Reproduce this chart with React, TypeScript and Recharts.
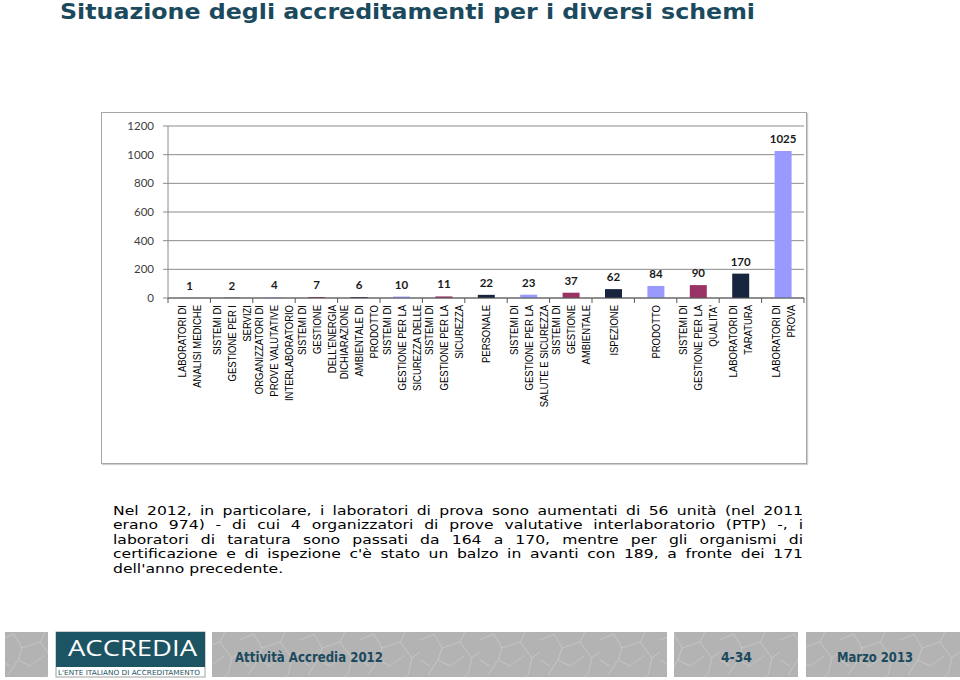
import React from 'react';
import { BarChart, Bar, XAxis, YAxis, CartesianGrid, Cell, LabelList } from 'recharts';

const title = 'Situazione degli accreditamenti per i diversi schemi';

const categories = [
  'LABORATORI DI\nANALISI MEDICHE',
  'SISTEMI DI\nGESTIONE PER I\nSERVIZI',
  'ORGANIZZATORI DI\nPROVE VALUTATIVE\nINTERLABORATORIO',
  "SISTEMI DI\nGESTIONE\nDELL'ENERGIA",
  'DICHIARAZIONE\nAMBIENTALE DI\nPRODOTTO',
  'SISTEMI DI\nGESTIONE PER LA\nSICUREZZA DELLE',
  'SISTEMI DI\nGESTIONE PER LA\nSICUREZZA',
  'PERSONALE',
  'SISTEMI DI\nGESTIONE PER LA\nSALUTE E SICUREZZA',
  'SISTEMI DI\nGESTIONE\nAMBIENTALE',
  'ISPEZIONE',
  'PRODOTTO',
  "SISTEMI DI\nGESTIONE PER LA\nQUALITA'",
  'LABORATORI DI\nTARATURA',
  'LABORATORI DI\nPROVA',
];

const values = [1, 2, 4, 7, 6, 10, 11, 22, 23, 37, 62, 84, 90, 170, 1025];

const yTicks = [0, 200, 400, 600, 800, 1000, 1200];

const paragraphLines = [
  'Nel 2012, in particolare, i laboratori di prova sono aumentati di 56 unità (nel 2011',
  'erano 974) - di cui 4 organizzatori di prove valutative interlaboratorio (PTP) -, i',
  'laboratori di taratura sono passati da 164 a 170, mentre per gli organismi di',
  "certificazione e di ispezione c'è stato un balzo in avanti con 189, a fronte dei 171",
  "dell'anno precedente.",
];

const footerLeft = 'Attività Accredia 2012';
const footerPage = '4-34';
const footerDate = 'Marzo 2013';

const palette = ['#993366', '#17253f', '#9999ff'];

const data = categories.map((name, i) => ({ name, value: values[i] }));

const CHART_W = 705;
const CHART_H = 351;
const MARGIN = { top: 14, right: 2, left: 0, bottom: 0 };
const Y_W = 67;
const X_H = 165;
const BAND = (CHART_W - MARGIN.left - MARGIN.right - Y_W) / categories.length;
const TEAL = '#1b4a5e';

const XTick = (props: any) => {
  const { x, y, payload, index } = props;
  const lines = String(payload.value).split('\n');
  const n = lines.length;
  const half = BAND / 2;
  return (
    <g transform={`translate(${x},${y})`}>
      <line x1={-half} x2={-half} y1={0} y2={5} stroke="#595959" strokeWidth={1} />
      {index === categories.length - 1 && (
        <line x1={half} x2={half} y1={0} y2={5} stroke="#595959" strokeWidth={1} />
      )}
      {lines.map((ln, k) => (
        <text
          key={k}
          transform={`translate(${(k - (n - 1) / 2) * 15},7) rotate(-90) scale(1,1.22)`}
          x={0}
          y={0}
          textAnchor="end"
          dominantBaseline="central"
          fontSize={9.5}
          fontFamily="'Liberation Sans', Arial, sans-serif"
          fill="#000"
        >
          {ln}
        </text>
      ))}
    </g>
  );
};

const Chart = () => (
  <BarChart width={CHART_W} height={CHART_H} data={data} margin={MARGIN}>
    <CartesianGrid vertical={false} stroke="#8c8c8c" strokeWidth={1} />
    <XAxis
      dataKey="name"
      interval={0}
      height={X_H}
      tickLine={false}
      tickSize={0}
      tickMargin={0}
      axisLine={{ stroke: '#595959', strokeWidth: 1 }}
      tick={<XTick />}
    />
    <YAxis
      width={Y_W}
      domain={[0, 1200]}
      ticks={yTicks}
      interval={0}
      tickSize={5}
      tickMargin={9}
      axisLine={{ stroke: '#8c8c8c' }}
      tickLine={{ stroke: '#8c8c8c' }}
      tick={{ fontSize: 11.5, fill: '#404040', fontFamily: 'Lato, sans-serif' }}
    />
    <Bar dataKey="value" barSize={17} isAnimationActive={false}>
      {data.map((_, i) => (
        <Cell key={i} fill={palette[i % 3]} />
      ))}
      <LabelList
        dataKey="value"
        position="top"
        offset={8}
        fill="#1a1a1a"
        fontSize={11.5}
        fontWeight="bold"
        fontFamily="Lato, sans-serif"
      />
    </Bar>
  </BarChart>
);

const FooterBox = ({ x, w }: { x: number; w: number }) => (
  <g>
    <rect x={x} y={632} width={w} height={45} fill="#b3b3b3" />
    <rect x={x} y={632} width={w} height={45} fill="url(#tex)" />
  </g>
);

export default function App() {
  return (
    <div
      style={{
        position: 'absolute',
        left: 0,
        top: 0,
        width: 960,
        height: 680,
        background: '#fff',
        overflow: 'hidden',
      }}
    >
      <svg width={960} height={680} style={{ position: 'absolute', left: 0, top: 0 }}>
        <defs>
          <pattern id="tex" width="60" height="45" patternUnits="userSpaceOnUse">
            <path
              d="M0 10 L14 4 L22 18 L40 12 L52 28 L60 22 M8 45 L18 30 L30 36 L44 26 M22 18 L18 30 M40 12 L46 0 M52 28 L48 45 M0 30 L10 36"
              stroke="#c9c9c9"
              strokeWidth={0.8}
              fill="none"
            />
          </pattern>
        </defs>
        <text
          x={60}
          y={19}
          fontSize={20.5}
          fontWeight="bold"
          fontFamily="Verdana, 'DejaVu Sans', sans-serif"
          fill={TEAL}
          textLength={695}
          lengthAdjust="spacingAndGlyphs"
        >
          {title}
        </text>
        <FooterBox x={5} w={43} />
        <FooterBox x={212} w={455} />
        <FooterBox x={674} w={124} />
        <FooterBox x={806} w={154} />
        <rect x={56} y={632} width={149} height={45} fill="#fff" stroke="#a0a0a0" strokeWidth={1} />
        <rect x={56} y={632} width={149} height={35} fill="#1d5464" />
        <text
          x={68}
          y={656}
          fontSize={22}
          fontFamily="'Open Sans', sans-serif"
          fill="#fff"
          textLength={129}
          lengthAdjust="spacingAndGlyphs"
        >
          ACCREDIA
        </text>
        <text
          x={58}
          y={675}
          fontSize={7}
          fontFamily="'DejaVu Sans', sans-serif"
          fill="#1d5464"
          textLength={142}
          lengthAdjust="spacingAndGlyphs"
        >
          L'ENTE ITALIANO DI ACCREDITAMENTO
        </text>
        <text
          x={235}
          y={662}
          fontSize={13.5}
          fontWeight="bold"
          fontFamily="Verdana, 'DejaVu Sans', sans-serif"
          fill={TEAL}
          textLength={148}
          lengthAdjust="spacingAndGlyphs"
        >
          {footerLeft}
        </text>
        <text
          x={721}
          y={662}
          fontSize={13.5}
          fontWeight="bold"
          fontFamily="Verdana, 'DejaVu Sans', sans-serif"
          fill={TEAL}
          textLength={31}
          lengthAdjust="spacingAndGlyphs"
        >
          {footerPage}
        </text>
        <text
          x={837}
          y={662}
          fontSize={13.5}
          fontWeight="bold"
          fontFamily="Verdana, 'DejaVu Sans', sans-serif"
          fill={TEAL}
          textLength={76}
          lengthAdjust="spacingAndGlyphs"
        >
          {footerDate}
        </text>
      </svg>

      <div
        style={{
          position: 'absolute',
          left: 113,
          top: 504,
          width: 575,
          transform: 'scaleX(1.2)',
          transformOrigin: '0 0',
          fontFamily: "Verdana, 'DejaVu Sans', sans-serif",
          fontSize: 13,
          lineHeight: '14.4px',
          color: '#000',
        }}
      >
        {paragraphLines.map((ln, i) => (
          <div
            key={i}
            style={{
              whiteSpace: 'nowrap',
              textAlign: i === paragraphLines.length - 1 ? 'left' : 'justify',
              textAlignLast: i === paragraphLines.length - 1 ? 'left' : 'justify',
              height: 14.4,
            }}
          >
            {ln}
          </div>
        ))}
      </div>

      <div
        style={{
          position: 'absolute',
          left: 101,
          top: 112,
          width: 706,
          height: 352,
          boxSizing: 'border-box',
          border: '1px solid #a6a6a6',
          boxShadow: '1px 1px 1px #cfcfcf',
          background: '#fff',
        }}
      >
        <div style={{ position: 'absolute', left: -1, top: -1 }}>
          <Chart />
        </div>
      </div>
    </div>
  );
}
